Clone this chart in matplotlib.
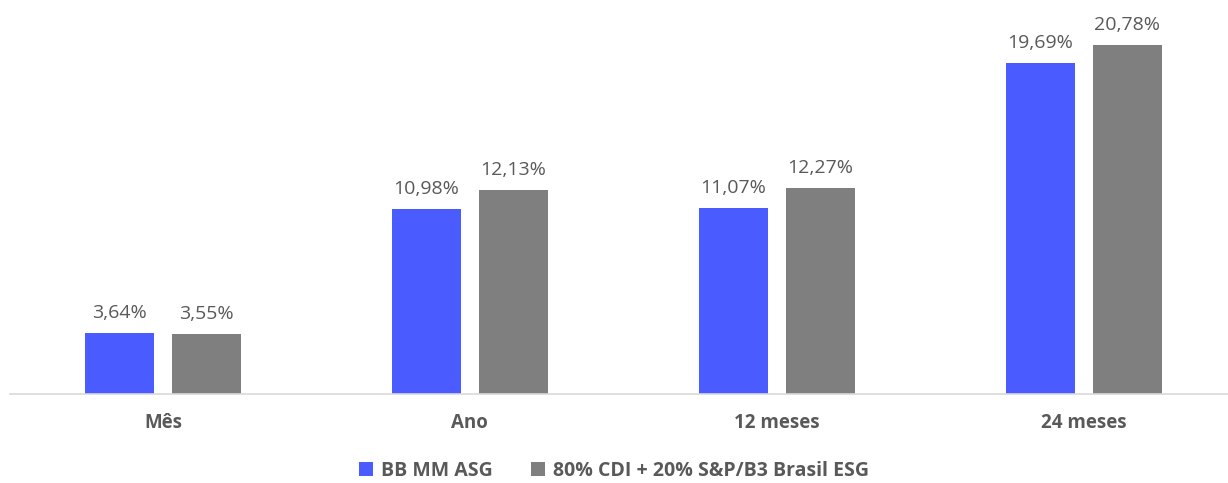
import matplotlib.pyplot as plt
import numpy as np

categorias = ['Mês', 'Ano', '12 meses', '24 meses']
fundo = [3.64, 10.98, 11.07, 19.69]
bench = [3.55, 12.13, 12.27, 20.78]
nomes = ['BB MM ASG', '80% CDI + 20% S&P/B3 Brasil ESG']

azul = '#4A5BFF'
cinza = '#7F7F7F'
texto = '#595959'

plt.rcParams['font.family'] = ['Open Sans', 'DejaVu Sans']

fig = plt.figure(figsize=(12.28, 4.83), dpi=100)
W, H = 1228, 483
x0, x1 = 9.6, 1237
y0 = 394
ax = fig.add_axes([x0 / W, (H - y0) / H, (x1 - x0) / W, 386.7 / H])

x = np.arange(len(categorias))
w = 0.225
off = 0.1417
b1 = ax.bar(x - off, fundo, w, color=azul, label=nomes[0])
b2 = ax.bar(x + off, bench, w, color=cinza, label=nomes[1])

for bars, vals in [(b1, fundo), (b2, bench)]:
    for b, v in zip(bars, vals):
        ax.annotate(f'{v:.2f}%'.replace('.', ','),
                    (b.get_x() + b.get_width() / 2, v),
                    xytext=(0, 8), textcoords='offset points',
                    ha='center', va='bottom', fontsize=14, color=texto)

ax.set_xlim(-0.5, 3.5)
ax.set_ylim(0, 23)
ax.set_xticks(x)
ax.set_xticklabels(categorias, fontsize=13.5, fontweight='bold', color=texto)
ax.tick_params(axis='x', length=0, pad=14)
ax.set_yticks([])
for s in ['top', 'right', 'left']:
    ax.spines[s].set_visible(False)
ax.spines['bottom'].set_color('#D9D9D9')
ax.spines['bottom'].set_linewidth(1.2)

leg = fig.legend(loc='center', bbox_to_anchor=(0.5, (H - 471) / H), ncol=2,
                 frameon=False, handlelength=0.7, handleheight=0.7,
                 handletextpad=0.4, columnspacing=2.0,
                 prop={'size': 14, 'weight': 'bold'})
for t in leg.get_texts():
    t.set_color(texto)

fig.savefig('out.png', dpi=100)
